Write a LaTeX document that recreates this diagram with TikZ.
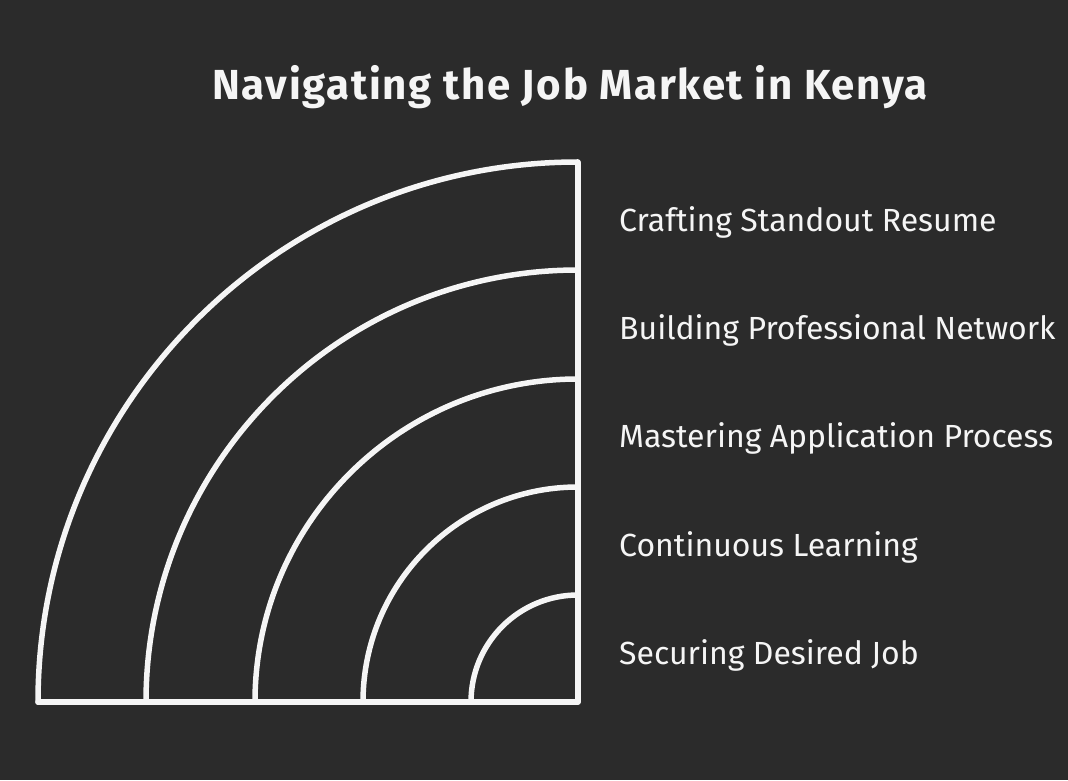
\documentclass[tikz,border=0pt]{standalone}
\usepackage{fontspec}
\setmainfont{Fira Sans}
\usetikzlibrary{positioning}
\definecolor{bgdark}{HTML}{2B2B2B}
\definecolor{chalk}{HTML}{F5F5F5}

\begin{document}
\begin{tikzpicture}[x=1pt,y=1pt,
    ring/.style={draw=chalk,line width=5.5pt,line cap=round,line join=round},
    steplabel/.style={anchor=base west,text=chalk,font=\fontsize{32}{38}\selectfont,inner sep=0pt}]
      \fill[bgdark] (0,0) rectangle (1068,780);
      \useasboundingbox (0,0) rectangle (1068,780);
      % title
      \node[anchor=base,text=chalk,font=\bfseries\fontsize{42}{48}\selectfont\addfontfeatures{LetterSpace=4},inner sep=0pt] (title) at (570,680) {Navigating the Job Market in Kenya};
      % corner of the quarter circle
      \coordinate (origin) at (578,78);
      \coordinate (top) at (578,617);
      \coordinate (left) at (38,78);
      \draw[ring] (top)--(origin)--(left);
      \draw[ring] (38,78) arc[start angle=180,end angle=90,radius=540];
      \draw[ring] (146,78) arc[start angle=180,end angle=90,radius=432];
      \draw[ring] (255,78) arc[start angle=180,end angle=90,radius=323];
      \draw[ring] (363,78) arc[start angle=180,end angle=90,radius=215];
      \draw[ring] (471,78) arc[start angle=180,end angle=90,radius=107];
      % labels
      \node[steplabel] (resume) at (619,548) {Crafting Standout Resume};
      \node[steplabel] (network) at (619,440) {Building Professional Network};
      \node[steplabel] (apply) at (619,332) {Mastering Application Process};
      \node[steplabel] (learn) at (619,224) {Continuous Learning};
      \node[steplabel] (job) at (619,116) {Securing Desired Job};
\end{tikzpicture}
\end{document}
